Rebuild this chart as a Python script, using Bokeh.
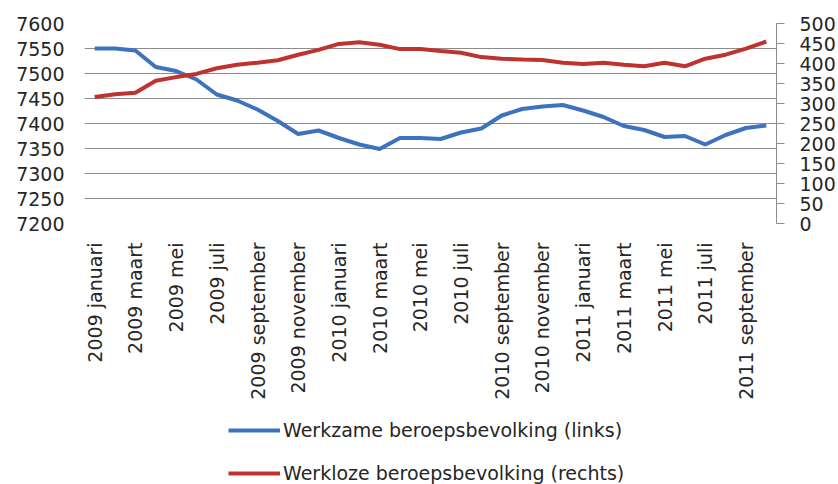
import math
from bokeh.plotting import figure
from bokeh.layouts import column
from bokeh.models import Range1d, LinearAxis, FixedTicker, Legend, LegendItem
from bokeh.embed import file_html
from bokeh.resources import INLINE

months = ["januari", "februari", "maart", "april", "mei", "juni", "juli", "augustus",
          "september", "oktober", "november", "december"]
categories = [f"{y} {m}" for y in (2009, 2010, 2011) for m in months][:34]

werkzame = [7550, 7550, 7546, 7513, 7505, 7488, 7458, 7446, 7428, 7405, 7379, 7386,
            7371, 7358, 7349, 7371, 7371, 7369, 7382, 7390, 7416, 7429, 7434, 7437,
            7426, 7413, 7395, 7387, 7373, 7375, 7358, 7377, 7391, 7396]
werkloze = [316, 323, 327, 357, 366, 374, 388, 397, 402, 408, 422, 434,
            449, 453, 447, 436, 436, 431, 427, 416, 412, 410, 409, 402,
            399, 402, 397, 393, 402, 393, 412, 422, 437, 455]
series_names = ["Werkzame beroepsbevolking (links)", "Werkloze beroepsbevolking (rechts)"]

left_ticks = [7200, 7250, 7300, 7350, 7400, 7450, 7500, 7550, 7600]
right_ticks = [0, 50, 100, 150, 200, 250, 300, 350, 400, 450, 500]

x = list(range(len(categories)))
FONT = "DejaVu Sans"
TXT = "#262626"
BLUE = "#3C72BE"
RED = "#BE3230"

p = figure(width=838, height=408, output_backend="svg", toolbar_location=None,
           x_range=Range1d(-0.5, len(categories) - 0.5),
           y_range=Range1d(7200, 7600),
           min_border_left=84, min_border_right=61, min_border_top=23, min_border_bottom=185)
p.outline_line_color = None
p.background_fill_color = "white"
p.border_fill_color = "white"
p.extra_y_ranges = {"right": Range1d(0, 500)}

# grid
p.xgrid.grid_line_color = None
p.ygrid.ticker = FixedTicker(ticks=left_ticks)
p.ygrid.grid_line_color = "#8c8c8c"
p.ygrid.grid_line_width = 1

# left axis
ya = p.yaxis[0]
ya.ticker = FixedTicker(ticks=left_ticks)
ya.axis_line_color = None
ya.major_tick_line_color = None
ya.minor_tick_line_color = None
ya.major_label_standoff = 14
ya.major_label_text_font = FONT
ya.major_label_text_font_size = "19px"
ya.major_label_text_color = TXT

# right axis
ra = LinearAxis(y_range_name="right", ticker=FixedTicker(ticks=right_ticks))
ra.axis_line_color = "#8c8c8c"
ra.major_tick_line_color = "#8c8c8c"
ra.major_tick_out = 8
ra.major_tick_in = 0
ra.minor_tick_line_color = None
ra.major_label_standoff = 15
ra.major_label_text_font = FONT
ra.major_label_text_font_size = "19px"
ra.major_label_text_color = TXT
p.add_layout(ra, "right")

# bottom axis
xa = p.xaxis[0]
xa.ticker = FixedTicker(ticks=x[::2])
xa.major_label_overrides = {i: categories[i] for i in x[::2]}
xa.major_label_orientation = math.pi / 2
xa.axis_line_color = None
xa.major_tick_line_color = None
xa.minor_tick_line_color = None
xa.major_label_standoff = 13
xa.major_label_text_font = FONT
xa.major_label_text_font_size = "19px"
xa.major_label_text_color = TXT

p.line(x, werkzame, line_color=BLUE, line_width=4)
p.line(x, werkloze, line_color=RED, line_width=4, y_range_name="right")

# legend panel (separate small figure below the chart; its lines lie outside its ranges)
lg = figure(width=838, height=76, output_backend="svg", toolbar_location=None,
            x_axis_type=None, y_axis_type=None,
            x_range=Range1d(-100, -99), y_range=Range1d(-100, -99),
            min_border_left=0, min_border_right=0, min_border_top=0, min_border_bottom=0)
lg.grid.visible = False
lg.outline_line_color = None
lg.border_fill_color = "white"
lg.background_fill_color = "white"
k1 = lg.line(x, werkzame, line_color=BLUE, line_width=4)
k2 = lg.line(x, werkloze, line_color=RED, line_width=4)
legend = Legend(items=[LegendItem(label=series_names[0], renderers=[k1]),
                       LegendItem(label=series_names[1], renderers=[k2])],
                location=(144, 0), orientation="vertical",
                padding=0, margin=0, spacing=21, glyph_width=52, glyph_height=20,
                label_height=20, label_standoff=3,
                label_text_font=FONT, label_text_font_size="19px", label_text_color=TXT,
                background_fill_alpha=0, border_line_color=None)
lg.add_layout(legend, "center")

layout = column(p, lg, spacing=0)
open("out.html", "w").write(file_html(layout, INLINE))
